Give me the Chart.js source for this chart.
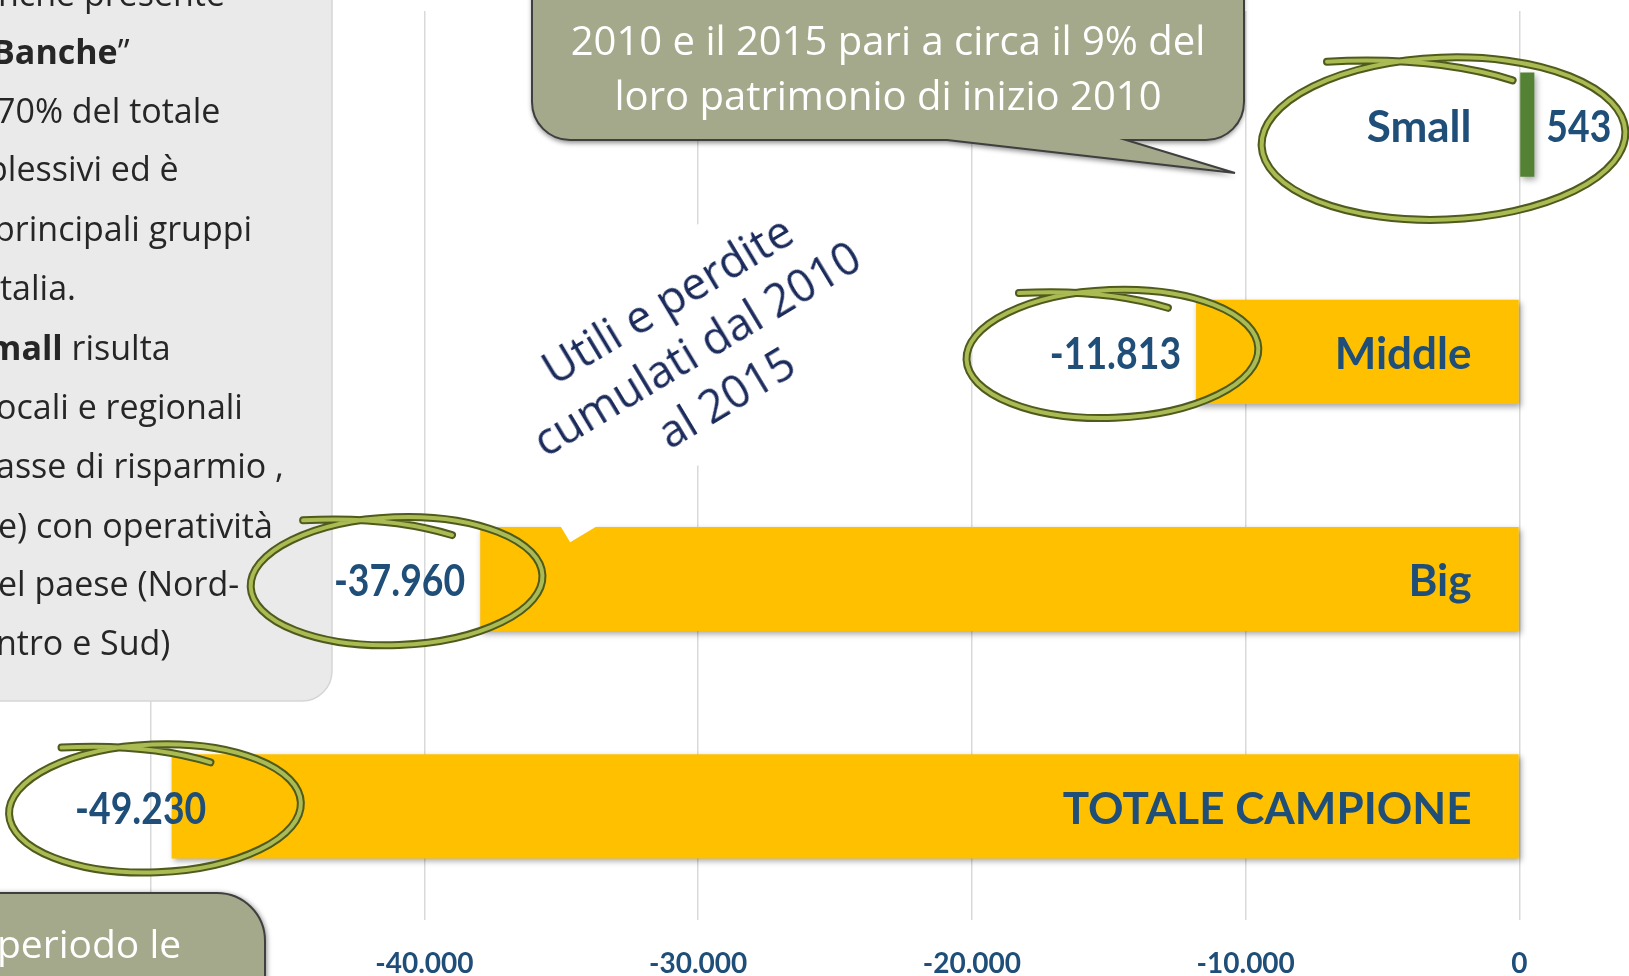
<!DOCTYPE html>
<html>
<head>
<meta charset="utf-8">
<script src="https://cdn.jsdelivr.net/npm/chart.js@4.4.1/dist/chart.umd.min.js"></script>
<style>
  body { margin: 0; background: #fff; }
  #wrap { position: relative; width: 1629px; height: 976px; overflow: hidden; }
  #chart { position: absolute; left: 0; top: 0; }
  .txt { position: absolute; white-space: nowrap; font-family: 'Open Sans', sans-serif; }
  .side { font-size: 34px; color: #262626; height: 59px; line-height: 59px; }
  .green { color: #fff; }
  #rotated { left: 487px; top: 262px; width: 418px; line-height: 57px; font-size: 45px;
             color: #1b2b5b; text-align: center; transform: rotate(-31deg); transform-origin: 50% 50%; }
</style>
</head>
<body>
<div id="wrap">
  <canvas id="chart" width="1629" height="976"></canvas>

  <!-- testo nel riquadro grigio (tagliato a sinistra) -->
  <div class="txt side" style="left:-2px;top:-36px">nche presente</div>
  <div class="txt side" style="left:-8px;top:22px"><b>Banche</b>”</div>
  <div class="txt side" style="left:-4px;top:81px">70% del totale</div>
  <div class="txt side" style="left:-13px;top:139px">plessivi ed è</div>
  <div class="txt side" style="left:-6px;top:199px">principali gruppi</div>
  <div class="txt side" style="left:0px;top:258px">talia.</div>
  <div class="txt side" style="left:-12px;top:318px"><b>mall</b> risulta</div>
  <div class="txt side" style="left:-4px;top:377px">ocali e regionali</div>
  <div class="txt side" style="left:-4px;top:436px">asse di risparmio ,</div>
  <div class="txt side" style="left:-2px;top:496px">e) con operatività</div>
  <div class="txt side" style="left:-2px;top:554px">el paese (Nord-</div>
  <div class="txt side" style="left:-4px;top:613px">ntro e Sud)</div>

  <!-- fumetto in alto -->
  <div class="txt green" style="left:532px;top:12px;width:712px;text-align:center;line-height:55px;font-size:40px">
    2010 e il 2015 pari a circa il 9% del<br>loro patrimonio di inizio 2010
  </div>

  <!-- riquadro in basso a sinistra -->
  <div class="txt green" style="left:-3px;top:915px;line-height:56px;font-size:39px">periodo le</div>

  <!-- titolo ruotato -->
  <div class="txt" id="rotated">Utili e perdite<br>cumulati dal 2010<br>al 2015</div>
</div>

<script>
const categories = ['Small', 'Middle', 'Big', 'TOTALE CAMPIONE'];
const values = [543, -11813, -37960, -49230];
const tickValues = [-50000, -40000, -30000, -20000, -10000, 0];
const xMin = -55500;
const xMax = 4000;

const BLUE = '#1f4e79';
const VALUE_FONT = 'bold 44px Lato, sans-serif';
const SQUEEZE = 0.85; // i numeri dell'originale sono stretti

function fmt(v) {
  const s = Math.abs(v).toString().replace(/\B(?=(\d{3})+(?!\d))/g, '.');
  return (v < 0 ? '-' : '') + s;
}

// ombra delle barre
const barShadow = {
  id: 'barShadow',
  beforeDatasetsDraw(chart) {
    const ctx = chart.ctx;
    ctx.save();
    ctx.shadowColor = 'rgba(0,0,0,0.35)';
    ctx.shadowBlur = 6;
    ctx.shadowOffsetX = 2;
    ctx.shadowOffsetY = 3;
  },
  afterDatasetsDraw(chart) {
    chart.ctx.restore();
  }
};

function labelBoxes(chart) {
  const ctx = chart.ctx;
  const x0 = chart.scales.x.getPixelForValue(0);
  const meta = chart.getDatasetMeta(0);
  ctx.save();
  ctx.font = VALUE_FONT;
  const out = meta.data.map((bar, i) => {
    const txt = fmt(values[i]);
    const w = ctx.measureText(txt).width * SQUEEZE;
    let left;
    if (values[i] >= 0) left = bar.x + 12;
    else left = Math.max(bar.x - 15 - w, 75);
    return { txt, left, w, y: bar.y, barEnd: bar.x, x0 };
  });
  ctx.restore();
  return out;
}

// etichette categoria e valori
const barLabels = {
  id: 'barLabels',
  afterDatasetsDraw(chart) {
    const ctx = chart.ctx;
    const boxes = labelBoxes(chart);
    ctx.save();
    ctx.fillStyle = BLUE;
    ctx.textBaseline = 'middle';
    boxes.forEach((b, i) => {
      ctx.font = 'bold 44px Lato, sans-serif';
      ctx.textAlign = 'right';
      ctx.fillText(categories[i], b.x0 - 48, b.y + 3);
      ctx.save();
      ctx.font = VALUE_FONT;
      ctx.textAlign = 'left';
      ctx.translate(b.left, b.y + 3);
      ctx.scale(SQUEEZE, 1);
      ctx.fillText(b.txt, 0, 0);
      ctx.restore();
    });
    ctx.restore();
  }
};

function ring(ctx, cx, cy, rx, ry) {
  const path = () => {
    ctx.beginPath();
    ctx.ellipse(cx, cy, rx, ry, -0.04, 0, Math.PI * 2);
    ctx.moveTo(cx - 0.64 * rx, cy - 0.95 * ry);
    ctx.quadraticCurveTo(cx - 0.05 * rx, cy - 1.02 * ry, cx + 0.38 * rx, cy - 0.72 * ry);
  };
  ctx.lineCap = 'round';
  path();
  ctx.lineWidth = 8;
  ctx.strokeStyle = '#4f5a1d';
  ctx.stroke();
  path();
  ctx.lineWidth = 4;
  ctx.strokeStyle = '#a9bb52';
  ctx.stroke();
}

// riquadri, fumetti e cerchi disegnati sopra il grafico
const overlays = {
  id: 'overlays',
  afterDraw(chart) {
    const ctx = chart.ctx;
    ctx.save();

    // riquadro grigio a sinistra
    ctx.beginPath();
    ctx.moveTo(-40, -40);
    ctx.lineTo(332, -40);
    ctx.lineTo(332, 701 - 30);
    ctx.arcTo(332, 701, 302, 701, 30);
    ctx.lineTo(-40, 701);
    ctx.closePath();
    ctx.fillStyle = '#eaeaea';
    ctx.fill();
    ctx.strokeStyle = '#d6d6d6';
    ctx.lineWidth = 1.5;
    ctx.stroke();

    // fumetto verde in alto
    ctx.save();
    ctx.shadowColor = 'rgba(0,0,0,0.45)';
    ctx.shadowBlur = 5;
    ctx.shadowOffsetY = 3;
    ctx.beginPath();
    ctx.moveTo(532, -40);
    ctx.lineTo(1244, -40);
    ctx.lineTo(1244, 140 - 38);
    ctx.arcTo(1244, 140, 1206, 140, 38);
    ctx.lineTo(1126, 140);
    ctx.lineTo(1235, 173);
    ctx.lineTo(947, 140);
    ctx.lineTo(570, 140);
    ctx.arcTo(532, 140, 532, 102, 38);
    ctx.closePath();
    ctx.fillStyle = '#a3a98a';
    ctx.fill();
    ctx.restore();
    ctx.strokeStyle = '#3f3f3f';
    ctx.lineWidth = 2;
    ctx.stroke();

    // riquadro verde in basso
    ctx.save();
    ctx.shadowColor = 'rgba(0,0,0,0.45)';
    ctx.shadowBlur = 5;
    ctx.shadowOffsetX = 2;
    ctx.beginPath();
    ctx.moveTo(-40, 893);
    ctx.lineTo(217, 893);
    ctx.arcTo(265, 893, 265, 941, 48);
    ctx.lineTo(265, 1020);
    ctx.lineTo(-40, 1020);
    ctx.closePath();
    ctx.fillStyle = '#a3a98a';
    ctx.fill();
    ctx.restore();
    ctx.strokeStyle = '#3f3f3f';
    ctx.lineWidth = 2;
    ctx.stroke();

    // fumetto bianco ruotato
    ctx.save();
    ctx.translate(696, 346);
    ctx.rotate(-31 * Math.PI / 180);
    ctx.fillStyle = '#ffffff';
    ctx.fillRect(-209, -103.5, 418, 207);
    ctx.restore();

    // cerchi attorno ai valori
    const boxes = labelBoxes(chart);
    boxes.forEach((b, i) => {
      if (values[i] >= 0) {
        ring(ctx, b.x0 - 76, b.y + 14, 182, 81);
      } else {
        const right = b.left + b.w;
        const cx = b.left + b.w / 2 + 0.5 * Math.max(0, right - b.barEnd) - 3;
        ring(ctx, cx, b.y + 2, 146, 64);
      }
    });

    ctx.restore();
  }
};

new Chart(document.getElementById('chart'), {
  type: 'bar',
  data: {
    labels: categories,
    datasets: [{
      data: values,
      backgroundColor: values.map(v => v >= 0 ? '#548235' : '#ffc000'),
      borderWidth: 0,
      categoryPercentage: 1,
      barPercentage: 0.458
    }]
  },
  options: {
    indexAxis: 'y',
    responsive: false,
    animation: false,
    layout: { padding: { top: 11, left: 0, right: 0, bottom: 0 } },
    plugins: {
      legend: { display: false },
      tooltip: { enabled: false }
    },
    scales: {
      y: {
        display: false
      },
      x: {
        min: xMin,
        max: xMax,
        afterBuildTicks: scale => {
          scale.ticks = tickValues.map(v => ({ value: v }));
        },
        afterFit: scale => {
          scale.height = 56;
        },
        border: { display: false },
        grid: { color: '#d9d9d9', lineWidth: 1.5, drawTicks: false },
        ticks: {
          padding: 30,
          color: BLUE,
          maxRotation: 0,
          font: { family: 'Lato', size: 28, weight: 'bold', lineHeight: 1 },
          callback: v => fmt(v)
        }
      }
    }
  },
  plugins: [barShadow, barLabels, overlays]
});
</script>
</body>
</html>
